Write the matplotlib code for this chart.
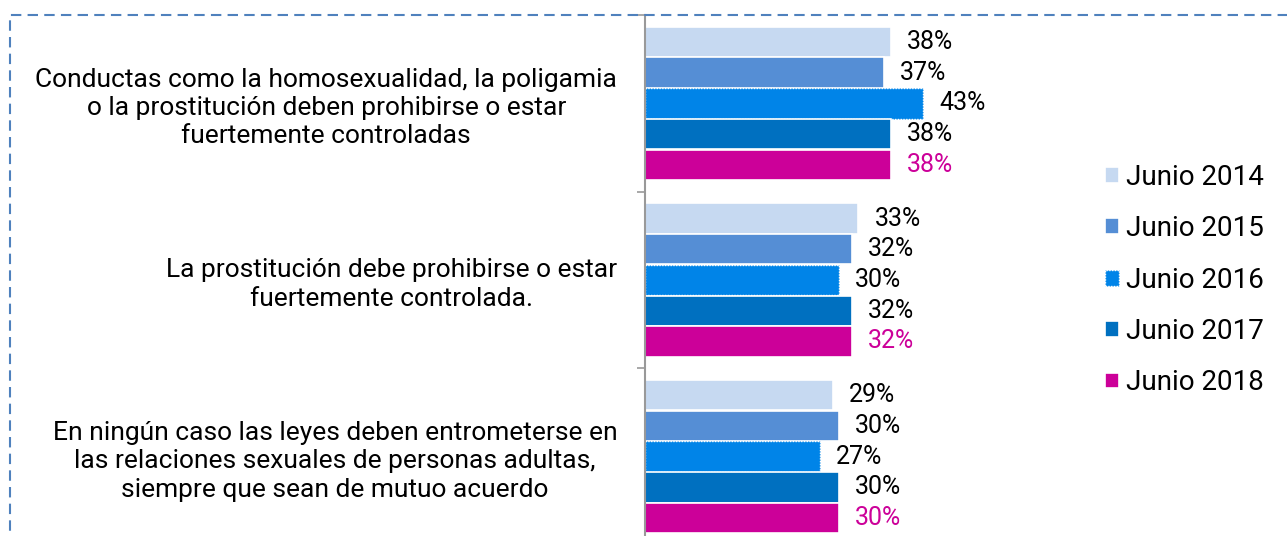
import numpy as np
import matplotlib
matplotlib.use("Agg")
import matplotlib.pyplot as plt
from matplotlib.patches import Rectangle

plt.rcParams['font.family'] = ['Roboto', 'DejaVu Sans']

# datos
categorias = [
    "Conductas como la homosexualidad, la poligamia\no la prostitución deben prohibirse o estar\nfuertemente controladas",
    "La prostitución debe prohibirse o estar\nfuertemente controlada.",
    "En ningún caso las leyes deben entrometerse en\nlas relaciones sexuales de personas adultas,\nsiempre que sean de mutuo acuerdo",
]
series = ["Junio 2014", "Junio 2015", "Junio 2016", "Junio 2017", "Junio 2018"]
junio_2014 = [38, 33, 29]
junio_2015 = [37, 32, 30]
junio_2016 = [43, 30, 27]
junio_2017 = [38, 32, 30]
junio_2018 = [38, 32, 30]
valores = [junio_2014, junio_2015, junio_2016, junio_2017, junio_2018]

colores = ['#C6D9F1', '#558ED5', '#0084E8', '#0070C0', '#CC0099']
color_etiqueta = ['black', 'black', 'black', 'black', '#CC0099']

W, H = 1287, 536
fig = plt.figure(figsize=(W / 100, H / 100), dpi=100)

# marco discontinuo
fig.patches.append(Rectangle((10 / W, -0.05), 1.1, (H - 15) / H + 0.05,
                             transform=fig.transFigure, fill=False,
                             edgecolor='#4F81BD', lw=1.5, ls=(0, (5, 3))))

ax = fig.add_axes([645 / W, -9 / H, 388 / W, 530 / H])

y = np.arange(len(categorias))
paso = 0.174
alto = 0.172
for j, (nombre, vals) in enumerate(zip(series, valores)):
    pos = y + (j - 2) * paso
    if j == 2:
        ax.barh(pos, vals, height=alto, color=colores[j],
                edgecolor='white', lw=1.0, ls=(0, (1, 1)), label=nombre)
    else:
        ax.barh(pos, vals, height=alto, color=colores[j],
                edgecolor='white', lw=1.2, label=nombre)
    for v, p in zip(vals, pos):
        ax.annotate(f"{v}%", (v, p), xytext=(16, 0), textcoords='offset pixels',
                    va='center', ha='left', fontsize=18, color=color_etiqueta[j])

ax.set_xlim(0, 60)
ax.set_ylim(2.5, -0.5)

for s in ['top', 'right', 'bottom']:
    ax.spines[s].set_visible(False)
ax.spines['left'].set_color('#999999')
ax.spines['left'].set_linewidth(1.5)
ax.set_xticks([])

ax.set_yticks([-0.5, 0.5, 1.5, 2.5])
ax.set_yticklabels([])
ax.tick_params(axis='y', which='major', length=6, width=1.2, color='#999999')
ax.set_yticks(y, minor=True)
ax.set_yticklabels(categorias, minor=True, fontsize=19)
ax.tick_params(axis='y', which='minor', length=0, pad=20)
for lab in ax.get_yticklabels(minor=True):
    lab.set_multialignment('center')
    lab.set_linespacing(1.23)

fig.legend(loc='center left', bbox_to_anchor=(1094 / W, (H - 280) / H),
           frameon=False, fontsize=20, handlelength=0.5, handleheight=0.5,
           handletextpad=0.25, labelspacing=0.88, borderaxespad=0)

fig.savefig('out.png', dpi=100)
